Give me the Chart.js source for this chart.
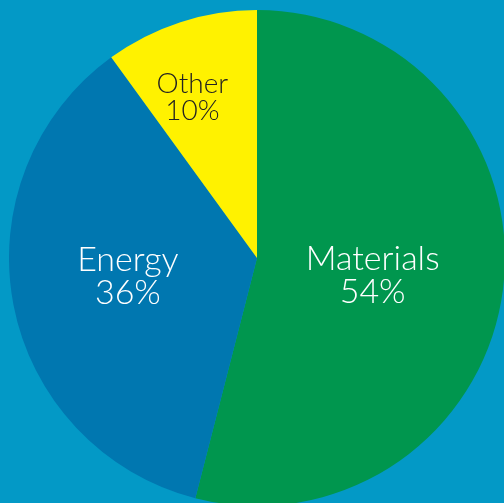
<!DOCTYPE html>
<html>
<head>
<meta charset="utf-8">
<script src="https://cdn.jsdelivr.net/npm/chart.js@4"></script>
<style>
  html, body { margin: 0; padding: 0; width: 504px; height: 503px; overflow: hidden; background: #0399c6; }
  #wrap { position: absolute; left: 9px; top: 10px; width: 496px; height: 496px; }
</style>
</head>
<body>
<div id="wrap"><canvas id="pie_chart"></canvas></div>
<script>
// data
const categories = ['Materials', 'Energy', 'Other'];
const shares = [54, 36, 10];
const sliceColors = ['#00964e', '#0077b0', '#fff200'];
const labelColors = ['#ffffff', '#ffffff', '#222222'];

// labels drawn inside each slice, positioned from the arc element
const sliceLabels = {
    id: 'sliceLabels',
    afterDatasetsDraw(chart, args, opts) {
        const ctx = chart.ctx;
        const meta = chart.getDatasetMeta(0);
        meta.data.forEach((arc, i) => {
            const p = arc.getProps(['x', 'y', 'startAngle', 'endAngle', 'outerRadius'], true);
            const mid = (p.startAngle + p.endAngle) / 2;
            const r = p.outerRadius * opts.radius[i];
            const x = p.x + Math.cos(mid) * r + opts.dx[i];
            const y = p.y + Math.sin(mid) * r + opts.dy[i];
            const size = opts.size[i];
            const gap = size * 0.48;
            ctx.save();
            ctx.fillStyle = labelColors[i];
            ctx.font = '300 ' + size + 'px Lato, "Open Sans", sans-serif';
            ctx.textAlign = 'center';
            ctx.textBaseline = 'middle';
            ctx.fillText(categories[i], x, y - gap);
            ctx.fillText(shares[i] + '%', x, y + gap);
            ctx.restore();
        });
    }
};

const ctx = document.getElementById('pie_chart');

new Chart(ctx, {
    type: 'pie',
    data: {
        labels: categories,
        datasets: [{
            data: shares,
            backgroundColor: sliceColors,
            borderWidth: 0
        }]
    },
    options: {
        responsive: true,
        maintainAspectRatio: false,
        animation: false,
        layout: { padding: 0 },
        plugins: {
            legend: { display: false },
            tooltip: { enabled: false },
            sliceLabels: {
                radius: [0.47, 0.53, 0.7],
                dx: [0, 0, -11],
                dy: [3, -6, 5],
                size: [34, 34, 28]
            }
        }
    },
    plugins: [sliceLabels]
});
</script>
</body>
</html>
